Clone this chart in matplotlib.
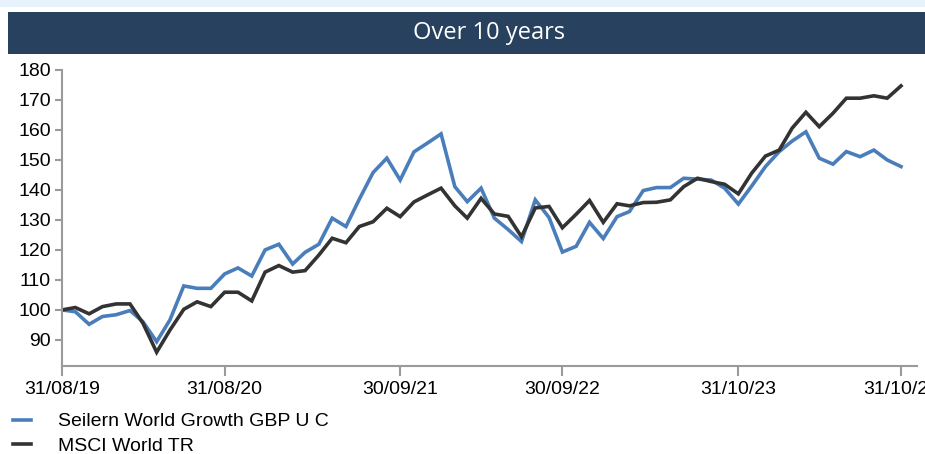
import pandas as pd
import matplotlib
matplotlib.use("Agg")
from matplotlib import pyplot as plt
from matplotlib.patches import Rectangle

# fechas mensuales 31/08/19 .. 31/10/24
fechas = pd.date_range('2019-08-31', periods=63, freq='ME')

seilern = [100.0, 99.4, 95.2, 97.8, 98.4, 99.8, 96.1, 89.4, 96.7, 108.0,
           107.2, 107.2, 112.0, 114.0, 111.3, 120.0, 121.9, 115.3, 119.2, 121.9,
           130.6, 127.8, 136.9, 145.8, 150.6, 143.3, 152.7, 155.6, 158.7, 141.1,
           136.1, 140.6, 130.6, 126.8, 122.8, 136.7, 130.8, 119.3, 121.2, 129.2,
           123.8, 131.1, 132.8, 139.8, 140.8, 140.8, 143.9, 143.6, 143.3, 140.6,
           135.3, 141.3, 147.8, 152.8, 156.3, 159.4, 150.6, 148.6, 152.8, 151.1,
           153.3, 150.0, 147.8]

msci = [100.0, 100.8, 98.7, 101.1, 102.0, 102.0, 95.6, 85.9, 93.3, 100.2,
        102.7, 101.1, 105.9, 105.9, 103.0, 112.6, 114.8, 112.6, 113.1, 118.3,
        123.9, 122.4, 127.8, 129.4, 133.9, 131.1, 136.0, 138.3, 140.6, 134.7,
        130.6, 137.2, 132.0, 131.2, 124.4, 134.0, 134.5, 127.4, 131.9, 136.5,
        129.2, 135.4, 134.7, 135.8, 135.9, 136.7, 141.1, 143.9, 142.8, 141.9,
        138.7, 145.6, 151.3, 153.3, 160.6, 165.9, 161.1, 165.6, 170.6, 170.6,
        171.4, 170.6, 174.7]

ticks = ['2019-08-31', '2020-08-31', '2021-09-30', '2022-09-30', '2023-10-31', '2024-10-31']
tick_labels = ['31/08/19', '31/08/20', '30/09/21', '30/09/22', '31/10/23', '31/10/24']
yticks = [90, 100, 110, 120, 130, 140, 150, 160, 170, 180]

nombres = ['Seilern World Growth GBP U C', 'MSCI World TR']
colores = ['#4a7ebb', '#333333']

plt.rcParams['font.family'] = ['Liberation Sans', 'DejaVu Sans']

fig = plt.figure(figsize=(9.25, 4.54), dpi=100)

# franja superior y cabecera
fig.patches.append(Rectangle((0, 1 - 7 / 454), 1, 7 / 454, transform=fig.transFigure,
                             facecolor='#e8f2fc', edgecolor='none'))
fig.patches.append(Rectangle((8 / 925, 1 - 54 / 454), 917 / 925, 42 / 454,
                             transform=fig.transFigure, facecolor='#27415e', edgecolor='none'))
fig.text(489 / 925, 1 - 33 / 454, 'Over 10 years', color='white', fontsize=17,
         family=['Open Sans', 'DejaVu Sans'], ha='center', va='center')

ax = fig.add_axes([62 / 925, 1 - 366 / 454, 855 / 925, 296 / 454])
ax.plot(fechas, seilern, color=colores[0], lw=2.6, label=nombres[0], solid_joinstyle='miter')
ax.plot(fechas, msci, color=colores[1], lw=2.6, label=nombres[1], solid_joinstyle='miter')

ax.set_xlim(pd.Timestamp('2019-08-31'), pd.Timestamp('2019-08-31') + pd.Timedelta(days=1924))
ax.set_ylim(81.3, 180)
ax.set_yticks(yticks)
ax.set_xticks(pd.to_datetime(ticks))
ax.set_xticklabels(tick_labels)

for s in ['top', 'right']:
    ax.spines[s].set_visible(False)
for s in ['left', 'bottom']:
    ax.spines[s].set_color('#9a9a9a')
    ax.spines[s].set_linewidth(1.5)
ax.tick_params(axis='both', colors='#9a9a9a', width=1.5, labelcolor='black', labelsize=14)
ax.tick_params(axis='x', length=7, pad=4)
ax.tick_params(axis='y', length=5, pad=3)

fig.legend(loc='upper left', bbox_to_anchor=(9 / 925, 1 - 409 / 454), frameon=False,
           fontsize=14, handlelength=0.93, handletextpad=1.4, labelspacing=0.36,
           borderaxespad=0, borderpad=0.2)

fig.savefig('out.png', dpi=100)
